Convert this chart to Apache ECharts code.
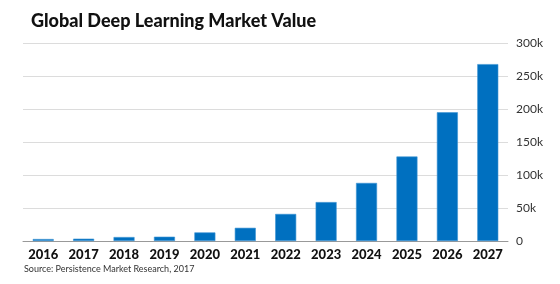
<!DOCTYPE html>
<html><head><meta charset="utf-8">
<script src="https://cdn.jsdelivr.net/npm/echarts@6/dist/echarts.min.js"></script>
<style>html,body{margin:0;padding:0;background:#fff}#c{width:560px;height:284px}</style>
</head><body><div id="c"></div>
<script>
const years = ['2016','2017','2018','2019','2020','2021','2022','2023','2024','2025','2026','2027'];
const marketValue = [3000, 3500, 6000, 6500, 13000, 20000, 41000, 59000, 88000, 128000, 195000, 268000];
const yTicks = [0, 50000, 100000, 150000, 200000, 250000, 300000];
const titleText = 'Global Deep Learning Market Value';
const sourceText = 'Source: Persistence Market Research, 2017';

const chart = echarts.init(document.getElementById('c'), null, {renderer: 'canvas'});
chart.setOption({
  animation: false,
  backgroundColor: '#fff',
  title: [{
    text: titleText, left: 31, top: 12, padding: 0,
    textStyle: {fontFamily: 'Lato', fontWeight: 900, fontSize: 18, color: '#111'}
  }, {
    text: sourceText, left: 24, top: 265, padding: 0,
    textStyle: {fontFamily: 'Lato', fontWeight: 'normal', fontSize: 9, color: '#333'}
  }],
  grid: {left: 23, right: 52, top: 43, bottom: 43, containLabel: false},
  xAxis: {
    type: 'category', data: years,
    axisLine: {lineStyle: {color: '#999', width: 1}},
    axisTick: {show: false},
    axisLabel: {fontFamily: 'Lato', fontWeight: 900, fontSize: 13, color: '#111', margin: 7}
  },
  yAxis: {
    type: 'value', position: 'right', min: yTicks[0], max: yTicks[yTicks.length-1], interval: 50000,
    axisLine: {show: false}, axisTick: {show: false},
    splitLine: {lineStyle: {color: '#dcdcdc', width: 1}},
    axisLabel: {fontFamily: 'Lato', fontSize: 12, color: '#333', margin: 8,
      formatter: v => v === 0 ? '0' : (v/1000) + 'k'}
  },
  series: [{
    type: 'bar', data: marketValue, barWidth: 21,
    itemStyle: {color: '#0070c0', borderColor: '#3d93d3', borderWidth: 0.6}
  }]
});
</script></body></html>
